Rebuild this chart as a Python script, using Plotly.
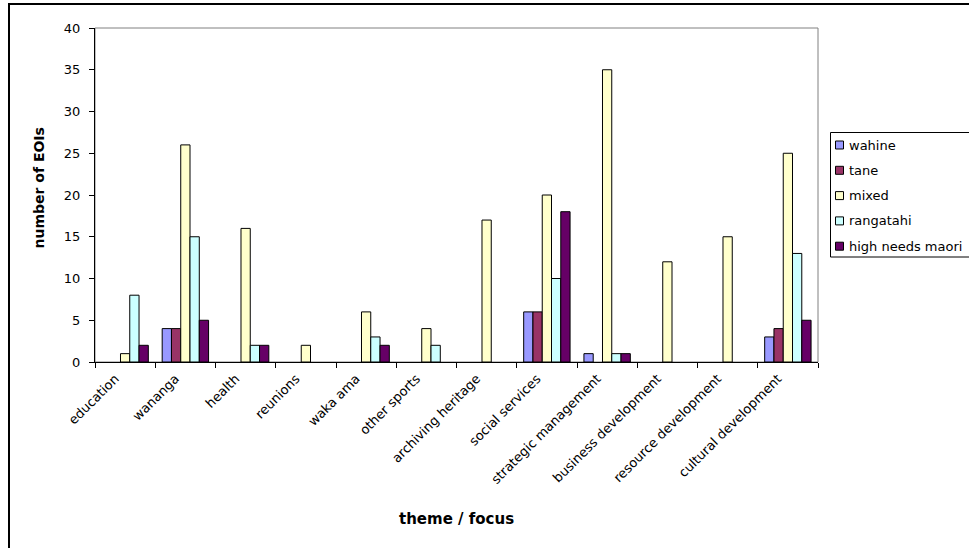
import plotly.graph_objects as go

categories = ["education", "wananga", "health", "reunions", "waka ama", "other sports",
              "archiving heritage", "social services", "strategic management",
              "business development", "resource development", "cultural development"]

wahine = [0, 4, 0, 0, 0, 0, 0, 6, 1, 0, 0, 3]
tane = [0, 4, 0, 0, 0, 0, 0, 6, 0, 0, 0, 4]
mixed = [1, 26, 16, 2, 6, 4, 17, 20, 35, 12, 15, 25]
rangatahi = [8, 15, 2, 0, 3, 2, 0, 10, 1, 0, 0, 13]
high_needs_maori = [2, 5, 2, 0, 2, 0, 0, 18, 1, 0, 0, 5]

series_names = ["wahine", "tane", "mixed", "rangatahi", "high needs maori"]
series_values = [wahine, tane, mixed, rangatahi, high_needs_maori]
series_colors = ["#9999FF", "#993366", "#FFFFCC", "#CCFFFF", "#660066"]

FONT = "'DejaVu Sans', Verdana, sans-serif"

# plot area in pixels
W, H = 969, 548
L, R, T, B = 95, 818, 28, 362
pw, ph = R - L, B - T

def px_x(x):
    return (x - L) / pw

def px_y(y):
    return (B - y) / ph

fig = go.Figure()
for name, vals, color in zip(series_names, series_values, series_colors):
    fig.add_trace(go.Bar(
        x=categories, y=vals, name=name,
        marker=dict(color=color,
                    line=dict(color="black", width=[1 if v else 0 for v in vals])),
    ))

shapes = [
    # plot-area frame (grey top/right edges)
    dict(type="rect", xref="paper", yref="paper", x0=0, x1=1, y0=0, y1=1,
         line=dict(color="#808080", width=1), layer="below"),
    # chart-area border
    dict(type="rect", xref="paper", yref="paper",
         x0=px_x(9), x1=px_x(1100), y0=px_y(700), y1=px_y(4),
         line=dict(color="black", width=2), layer="below"),
    # legend box
    dict(type="rect", xref="paper", yref="paper",
         x0=px_x(830.5), x1=px_x(1000), y0=px_y(257), y1=px_y(132.5),
         line=dict(color="black", width=1), fillcolor="white", layer="below"),
]

annotations = [
    dict(text="<b>number of EOIs</b>", xref="paper", yref="paper",
         x=px_x(38.5), y=px_y(188), textangle=-90, showarrow=False,
         xanchor="center", yanchor="middle",
         font=dict(family=FONT, size=14, color="black")),
    dict(text="<b>theme / focus</b>", xref="paper", yref="paper",
         x=px_x(456), y=px_y(519), showarrow=False,
         xanchor="center", yanchor="middle",
         font=dict(family=FONT, size=15, color="black")),
]

# legend entries
entry_y0, entry_step = 145, 25.3
for i, (name, color) in enumerate(zip(series_names, series_colors)):
    cy = entry_y0 + i * entry_step
    shapes.append(dict(type="rect", xref="paper", yref="paper",
                       x0=px_x(835.5), x1=px_x(843.5), y0=px_y(cy + 4), y1=px_y(cy - 4),
                       line=dict(color="black", width=1), fillcolor=color))
    annotations.append(dict(text=name, xref="paper", yref="paper",
                            x=px_x(847), y=px_y(cy), showarrow=False,
                            xanchor="left", yanchor="middle",
                            font=dict(family=FONT, size=13, color="black")))

fig.update_layout(
    width=W, height=H,
    margin=dict(l=L, r=W - R, t=T, b=H - B, pad=0),
    paper_bgcolor="white", plot_bgcolor="white",
    barmode="group", bargap=0.23, bargroupgap=0,
    font=dict(family=FONT, size=13, color="black"),
    showlegend=False,
    xaxis=dict(
        showline=True, linecolor="black", linewidth=1,
        ticks="outside", ticklen=5, tickcolor="black", tickson="boundaries",
        tickangle=-45, tickfont=dict(family=FONT, size=13, color="black"),
        ticklabelstandoff=3, ticklabelshift=-10,
        showgrid=False, zeroline=False,
    ),
    yaxis=dict(
        range=[0, 40], dtick=5, tick0=0,
        showline=True, linecolor="black", linewidth=1,
        ticks="outside", ticklen=5, tickcolor="black",
        tickfont=dict(family=FONT, size=13, color="black"),
        ticklabelstandoff=6,
        showgrid=False, zeroline=False,
    ),
    shapes=shapes,
    annotations=annotations,
)

fig.write_html("out.html")
